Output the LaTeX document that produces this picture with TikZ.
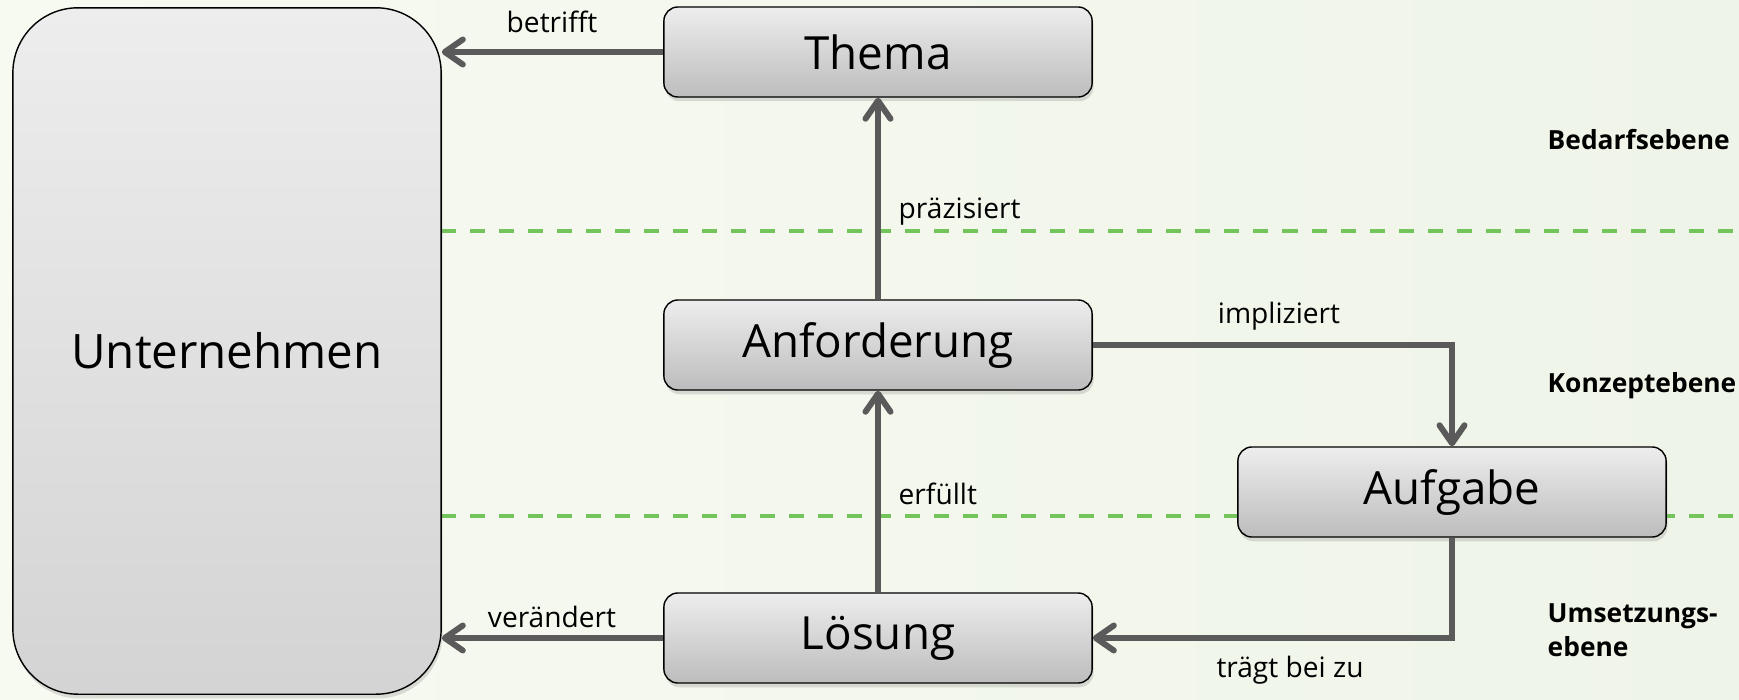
\documentclass[tikz,border=0pt]{standalone}
\usepackage{fontspec}
\setmainfont{Open Sans}
\usetikzlibrary{arrows.meta,shadows,positioning}
\definecolor{arrow-grey}{HTML}{5A5A5A}
\definecolor{level-green}{HTML}{74C45C}
\definecolor{bg-light}{HTML}{F7FAF1}
\definecolor{bg-dark}{HTML}{EFF4E8}
\tikzset{
    entity-box/.style = {draw=black, thin, rectangle, rounded corners=4pt, top color=black!7, bottom color=black!26, minimum width=4.28cm, minimum height=0.9cm, font=\fontsize{13}{15}\selectfont, drop shadow={shadow xshift=0.4pt, shadow yshift=-1.2pt, opacity=0.25}},
    company-box/.style = {entity-box, rounded corners=0.65cm, top color=black!7, bottom color=black!17, minimum width=4.28cm, minimum height=6.86cm, font=\fontsize{13.5}{16}\selectfont},
    relation/.style = {draw=arrow-grey, line width=1.7pt, -{Straight Barb[length=1.8mm, width=2.5mm, round]}},
    relation-label/.style = {font=\fontsize{8}{10}\selectfont, inner sep=0pt},
    level-line/.style = {draw=level-green, line width=0.9pt, dash pattern=on 1.5mm off 1.4mm},
    level-label/.style = {font=\bfseries\fontsize{7.5}{9.6}\selectfont, anchor=west, align=left, inner sep=0pt},
}

\begin{document}
\begin{tikzpicture}[x=0.01cm, y=-0.01cm]
\useasboundingbox (0,0) rectangle (1739,700);
\shade[left color=bg-light, right color=bg-dark] (0,0) rectangle (1739,700);

\coordinate (bedarf-left) at (441,231);
\coordinate (bedarf-right) at (1739,231);
\coordinate (konzept-left) at (441,516);
\coordinate (konzept-right) at (1739,516);
\draw[level-line] (bedarf-left) -- (bedarf-right);
\draw[level-line] (konzept-left) -- (konzept-right);

\node[company-box] (unternehmen) at (227,351) {Unternehmen};
\node[entity-box] (thema) at (878,52) {Thema};
\node[entity-box] (anforderung) at (878,345) {Anforderung};
\node[entity-box] (aufgabe) at (1452,492) {Aufgabe};
\node[entity-box] (loesung) at (878,638) {Lösung};

\draw[relation] (thema.west) -- (thema.west -| unternehmen.east);
\draw[relation] (loesung.west) -- (loesung.west -| unternehmen.east);
\draw[relation] (anforderung.north) -- (thema.south);
\draw[relation] (loesung.north) -- (anforderung.south);
\draw[relation] (anforderung.east) -| (aufgabe.north);
\draw[relation] (aufgabe.south) |- (loesung.east);

\node[relation-label] (betrifft) at (552,22) {betrifft};
\node[relation-label] (veraendert) at (552,617) {verändert};
\node[relation-label, anchor=west] (praezisiert) at (898,212) {präzisiert};
\node[relation-label, anchor=west] (erfuellt) at (898,494) {erfüllt};
\node[relation-label] (impliziert) at (1279,316) {impliziert};
\node[relation-label] (traegt) at (1290,670) {trägt bei zu};

\node[level-label] (bedarf) at (1547,140) {Bedarfsebene};
\node[level-label] (konzept) at (1547,386) {Konzeptebene};
\node[level-label] (umsetzung) at (1547,630) {Umsetzungs-\\ebene};
\end{tikzpicture}
\end{document}
